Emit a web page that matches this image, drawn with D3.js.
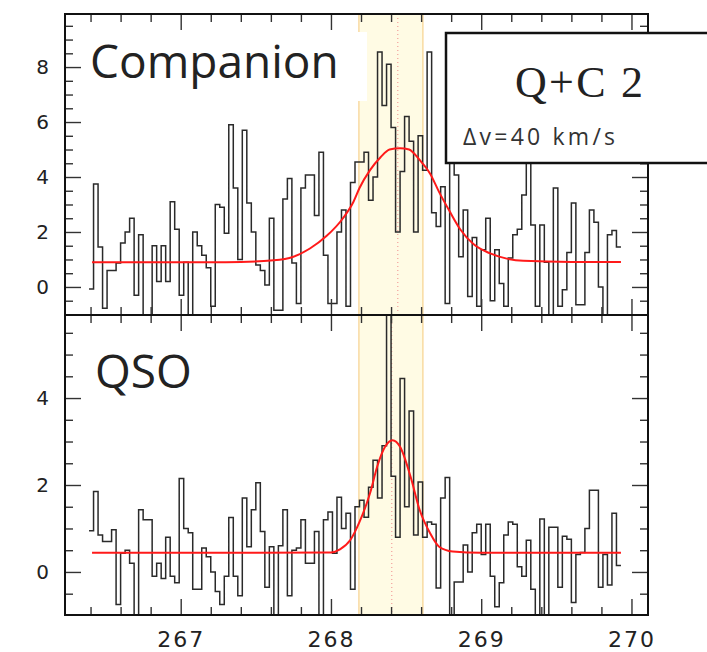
<!DOCTYPE html>
<html>
<head>
<meta charset="utf-8">
<script src="https://cdn.jsdelivr.net/npm/d3@7"></script>
<style>
  body { margin: 0; background: #fff; }
  svg text { fill: #222; }
</style>
</head>
<body>
<div id="chart"></div>
<script>
// spectral channels: start frequency (GHz) and width
var chanStart = 266.39
  , chanWidth = 0.03
  ;

// flux per channel
var companionFlux = [
  -0.07, 3.75, 1.45, -0.77, 0.6, 0.6, 0.87, 1.6, 2.0, 2.5,
  -0.3, 1.9, -1.3, -1.3, 1.5, 0.2, 1.5, 0.2, 3.1, 2.1,
  -0.3, 0.9, -1.3, 2.0, 1.5, 1.15, 0.7, -0.7, 3.0, 2.9,
  1.95, 5.9, 3.6, 1.0, 5.7, 3.05, 2.0, 0.8, 0.6, 0.07,
  2.5, -0.85, -0.85, 3.2, 3.95, 0.87, -0.6, 3.6, 4.07, 4.07,
  2.6, 4.9, 1.15, -0.6, -0.6, 2.0, 2.8, -0.7, 3.8, 4.55,
  4.55, 4.9, 3.15, 4.0, 8.55, 6.6, 8.1, 5.8, 2.0, 4.2,
  6.2, 5.3, 2.0, 5.5, 4.25, 8.55, 2.7, 2.2, 3.65, -0.6,
  4.5, 4.07, 1.1, 2.8, -0.35, 1.8, -0.7, 1.35, 2.5, -0.5,
  1.35, 0.13, -0.7, 1.05, 1.9, 2.1, 3.35, 4.5, 2.25, -0.7,
  2.25, 0.9, -1.3, 3.6, -0.7, -0.1, 1.25, 3.05, -0.65, -0.65,
  1.25, 2.8, 2.35, 0.0, -1.3, 1.9, 2.05, 1.45
];

var qsoFlux = [
  0.95, 1.85, 0.85, 0.7, 0.7, 0.97, -0.75, 0.43, 0.5, 0.2,
  -1.3, 1.43, 1.2, 1.2, -0.1, 0.2, -0.15, 0.8, -0.1, -0.25,
  2.15, 1.0, 0.9, -0.4, -0.4, 0.55, 0.35, 0.0, -0.45, -0.75,
  -0.1, 1.25, -0.1, -0.55, 1.7, 0.58, 1.43, 2.05, 0.93, -0.35,
  0.58, -1.3, 0.6, 1.43, -0.55, 0.5, 0.55, 1.2, 0.2, 0.2,
  0.93, -1.3, 1.2, 1.38, 0.43, 1.72, 1.0, 1.35, -0.4, 1.5,
  1.65, 1.26, 1.95, 2.57, 1.7, 2.9, 6.5, 2.2, 0.8, 4.45,
  1.5, 3.7, 0.85, 2.07, 0.8, 1.15, 1.1, -0.37, 1.7, 2.17,
  -1.3, -0.23, -0.23, 0.62, 0.0, 0.9, 1.1, 0.4, 1.1, -0.1,
  -0.8, -0.25, 0.85, 1.15, 1.1, 0.12, -0.1, 0.73, -0.4, -1.3,
  1.22, -1.3, 1.03, 1.03, -0.35, 0.82, 0.75, -0.7, 0.4, 0.45,
  1.0, 1.88, 1.88, -0.35, 0.4, -0.3, 1.35, 0.15
];

// red fit curves
var companionFitFreq = [266.41, 267.3, 267.62, 267.75, 267.86, 267.97, 268.08, 268.15, 268.19, 268.26,
                        268.33, 268.39, 268.46, 268.52, 268.59, 268.66, 268.72, 268.79, 268.86, 268.95,
                        269.06, 269.17, 269.28, 269.6, 269.93];
var companionFitFlux = [0.9, 0.9, 0.97, 1.1, 1.4, 1.85, 2.5, 3.1, 3.6, 4.25,
                        4.72, 5.0, 5.05, 5.0, 4.62, 4.12, 3.45, 2.75, 2.1, 1.55,
                        1.22, 1.03, 0.95, 0.91, 0.91];
var qsoFitFreq = [266.41, 267.5, 268.0, 268.06, 268.13, 268.19, 268.26, 268.31, 268.36, 268.41,
                  268.46, 268.53, 268.59, 268.66, 268.72, 268.81, 269.0, 269.93];
var qsoFitFlux = [0.44, 0.44, 0.45, 0.52, 0.74, 1.15, 1.81, 2.45, 2.88, 3.03,
                  2.88, 2.19, 1.43, 0.89, 0.58, 0.47, 0.44, 0.44];

var xLabels = [267, 268, 269, 270];
var companionYLabels = [0, 2, 4, 6, 8];
var qsoYLabels = [0, 2, 4];
var lineBand = [268.186, 268.612];
var companionCentre = 268.445
  , qsoCentre = 268.405
  ;

var w = 707
  , h = 652
  , left = 65
  , right = 648
  ;

var svg = d3.select('#chart').append('svg')
            .attr('width', w).attr('height', h)
  , x = d3.scaleLinear().domain([266.23, 270.11]).range([left, right])
  , fmt = d3.format('d')
  ;

var panels = [
  { id: 'comp', name: 'Companion', flux: companionFlux,
    fitF: companionFitFreq, fitY: companionFitFlux,
    y: d3.scaleLinear().domain([-1.02, 9.93]).range([315, 14]),
    yLabels: companionYLabels, centre: companionCentre, label: [90, 78] },
  { id: 'qso', name: 'QSO', flux: qsoFlux,
    fitF: qsoFitFreq, fitY: qsoFitFlux,
    y: d3.scaleLinear().domain([-0.99, 5.91]).range([615, 315]),
    yLabels: qsoYLabels, centre: qsoCentre, label: [95, 388] }
];

var xMinor = d3.range(1332, 1351).map(function (d) { return d / 5; })
                .filter(function (d) { return d % 1 !== 0; });

function noDomain(g) { g.select('.domain').remove(); }

panels.forEach(function (p) {
  var y = p.y
    , yb = y.range()[0]
    , yt = y.range()[1]
    , g = svg.append('g')
    ;

  svg.append('clipPath').attr('id', 'clip-' + p.id)
    .append('rect').attr('x', left).attr('y', yt)
    .attr('width', right - left).attr('height', yb - yt);

  var inner = g.append('g').attr('clip-path', 'url(#clip-' + p.id + ')');

  // line band
  inner.append('rect')
    .attr('x', x(lineBand[0])).attr('y', yt)
    .attr('width', x(lineBand[1]) - x(lineBand[0])).attr('height', yb - yt)
    .style('fill', '#fffbe4');
  lineBand.forEach(function (f) {
    inner.append('line')
      .attr('x1', x(f)).attr('x2', x(f)).attr('y1', yt).attr('y2', yb)
      .style('stroke', '#f7d28e').style('stroke-width', 1.2);
  });

  if (p.id === 'comp') {
    inner.append('rect').attr('x', 82).attr('y', 32)
      .attr('width', 285).attr('height', 69).style('fill', '#fff');
  }

  inner.append('line')
    .attr('x1', x(p.centre)).attr('x2', x(p.centre)).attr('y1', yt).attr('y2', yb)
    .style('stroke', '#f08c8c').style('stroke-width', 1)
    .style('stroke-dasharray', '1,3');

  // histogram of the channels
  var pts = p.flux.map(function (v, i) { return [chanStart + i * chanWidth, v]; });
  pts.push([chanStart + p.flux.length * chanWidth, p.flux[p.flux.length - 1]]);

  inner.append('path')
    .attr('d', d3.line()
      .x(function (d) { return x(d[0]); })
      .y(function (d) { return y(d[1]); })
      .curve(d3.curveStepAfter)(pts))
    .style('fill', 'none').style('stroke', '#2a2a2a').style('stroke-width', 1.5);

  // fit
  inner.append('path')
    .attr('d', d3.line()
      .x(function (d, i) { return x(p.fitF[i]); })
      .y(function (d) { return y(d); })
      .curve(d3.curveMonotoneX)(p.fitY))
    .style('fill', 'none').style('stroke', '#ff1a1a').style('stroke-width', 2);

  // ticks on all four sides, pointing inward
  var yMinor = d3.range(-2, 20).map(function (d) { return d / 2; })
                 .filter(function (d) { return d > y.domain()[0] + 0.1 && d < y.domain()[1] && d % 2 !== 0; });
  var yMajor = d3.range(0, 10, 2).filter(function (d) { return d < y.domain()[1]; });

  [[d3.axisTop, yb], [d3.axisBottom, yt]].forEach(function (a) {
    g.append('g').attr('transform', 'translate(0,' + a[1] + ')')
      .call(a[0](x).tickValues(xMinor).tickSize(8).tickFormat('')).call(noDomain);
    g.append('g').attr('transform', 'translate(0,' + a[1] + ')')
      .call(a[0](x).tickValues(xLabels).tickSize(16).tickFormat('')).call(noDomain);
  });
  [[d3.axisRight, left], [d3.axisLeft, right]].forEach(function (a) {
    g.append('g').attr('transform', 'translate(' + a[1] + ',0)')
      .call(a[0](y).tickValues(yMinor).tickSize(8).tickFormat('')).call(noDomain);
    g.append('g').attr('transform', 'translate(' + a[1] + ',0)')
      .call(a[0](y).tickValues(yMajor).tickSize(16).tickFormat('')).call(noDomain);
  });

  g.selectAll('.tick line').style('stroke', '#333').style('stroke-width', 1.4);

  g.append('rect')
    .attr('x', left).attr('y', yt).attr('width', right - left).attr('height', yb - yt)
    .style('fill', 'none').style('stroke', '#111').style('stroke-width', 2);

  // y labels
  var yl = g.append('g').attr('transform', 'translate(' + left + ',0)')
    .call(d3.axisLeft(y).tickValues(p.yLabels).tickFormat(fmt).tickSize(0).tickPadding(16))
    .call(noDomain);
  yl.selectAll('text').style('font-family', 'DejaVu Sans').style('font-size', '20px');

  g.append('text')
    .attr('x', p.label[0]).attr('y', p.label[1])
    .style('font-family', 'Open Sans').style('font-size', '46px')
    .text(p.name);
});

// x labels under the lower panel
var xl = svg.append('g').attr('transform', 'translate(0,615)')
  .call(d3.axisBottom(x).tickValues(xLabels).tickFormat(fmt).tickSize(0).tickPadding(16))
  .call(noDomain);
xl.selectAll('text')
  .style('font-family', 'DejaVu Sans').style('font-size', '22px')
  .style('letter-spacing', '2px');

// key box
var key = svg.append('g');
key.append('rect')
  .attr('x', 446).attr('y', 33).attr('width', 300).attr('height', 130)
  .style('fill', '#fff').style('stroke', '#111').style('stroke-width', 2.5);
key.append('text')
  .attr('x', 579).attr('y', 97).attr('text-anchor', 'middle')
  .attr('textLength', 128).attr('lengthAdjust', 'spacing')
  .style('font-family', 'Liberation Serif').style('font-size', '44px')
  .text('Q+C 2');
key.append('text')
  .attr('x', 463).attr('y', 145)
  .attr('textLength', 152).attr('lengthAdjust', 'spacing')
  .style('font-family', 'Open Sans').style('font-size', '23px').style('fill', '#333')
  .text('Δv=40 km/s');
</script>
</body>
</html>
